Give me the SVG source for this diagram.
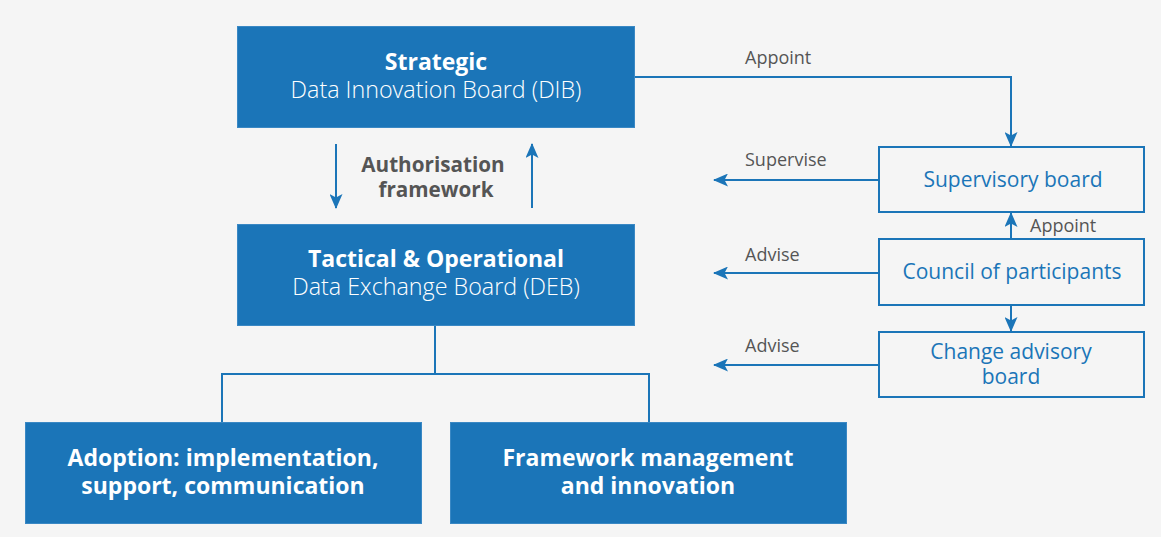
<svg xmlns="http://www.w3.org/2000/svg" width="1161" height="537" viewBox="0 0 1161 537">
<style>
.fill{fill:#1b75b8;stroke:#3a88c4;stroke-width:1}
.outl{fill:none;stroke:#1b75b8;stroke-width:2}
.bt{font-family:"Open Sans","Liberation Sans",sans-serif;font-weight:700;font-size:23px;fill:#fff;text-anchor:middle}
.lt{font-family:"Open Sans","Liberation Sans",sans-serif;font-weight:300;font-size:23.3px;fill:#fff;text-anchor:middle}
.nt{font-family:"Open Sans","Liberation Sans",sans-serif;font-size:21px;fill:#1b75b8;text-anchor:middle}
.lab{font-family:"Open Sans","Liberation Sans",sans-serif;font-size:18px;fill:#555}
.gb{font-family:"Open Sans","Liberation Sans",sans-serif;font-weight:700;font-size:20.7px;fill:#555;text-anchor:middle}
.ln{fill:none;stroke:#1b75b8;stroke-width:2}
</style>
<defs>
<marker id="ah" viewBox="0 0 15 13" refX="14" refY="6.5" markerWidth="15" markerHeight="13" markerUnits="userSpaceOnUse" orient="auto">
<path d="M0,0 L15,6.5 L0,13 L3.5,6.5 Z" fill="#1b75b8"/>
</marker>
</defs>
<rect width="1161" height="537" fill="#f5f5f5"/>
<g id="connectors">
<path class="ln" d="M634,77 H1011 V146" marker-end="url(#ah)"/>
<path class="ln" d="M336,144 V208" marker-end="url(#ah)"/>
<path class="ln" d="M532,208 V144" marker-end="url(#ah)"/>
<path class="ln" d="M435,325 V374 M222,422 V374 H649 V422"/>
<path class="ln" d="M879,180 H714" marker-end="url(#ah)"/>
<path class="ln" d="M879,273 H714" marker-end="url(#ah)"/>
<path class="ln" d="M879,365 H714" marker-end="url(#ah)"/>
<path class="ln" d="M1011,239 V213" marker-end="url(#ah)"/>
<path class="ln" d="M1011,305 V331" marker-end="url(#ah)"/>
<text class="lab" x="745" y="64">Appoint</text>
<text class="lab" x="745" y="166">Supervise</text>
<text class="lab" x="745" y="261">Advise</text>
<text class="lab" x="745" y="352">Advise</text>
<text class="lab" x="1030" y="232">Appoint</text>
<text class="gb" x="433" y="172">Authorisation</text>
<text class="gb" x="436" y="197">framework</text>
</g>
<g id="dib">
<rect class="fill" x="237.5" y="26.5" width="397" height="101"/>
<text class="bt" x="436" y="70">Strategic</text>
<text class="lt" x="436" y="98">Data Innovation Board (DIB)</text>
</g>
<g id="deb">
<rect class="fill" x="237.5" y="224.5" width="397" height="101"/>
<text class="bt" x="436" y="267">Tactical &amp; Operational</text>
<text class="lt" x="436" y="295">Data Exchange Board (DEB)</text>
</g>
<g id="adoption">
<rect class="fill" x="25.5" y="422.5" width="396" height="101"/>
<text class="bt" x="223" y="466">Adoption: implementation,</text>
<text class="bt" x="223" y="494">support, communication</text>
</g>
<g id="framework">
<rect class="fill" x="450.5" y="422.5" width="396" height="101"/>
<text class="bt" x="648" y="466">Framework management</text>
<text class="bt" x="648" y="494">and innovation</text>
</g>
<g id="supervisory">
<rect class="outl" x="879" y="147" width="265" height="65"/>
<text class="nt" x="1013" y="187">Supervisory board</text>
</g>
<g id="council">
<rect class="outl" x="879" y="239" width="265" height="66"/>
<text class="nt" x="1012" y="279">Council of participants</text>
</g>
<g id="change">
<rect class="outl" x="879" y="332" width="265" height="65"/>
<text class="nt" x="1011" y="359">Change advisory</text>
<text class="nt" x="1011" y="384">board</text>
</g>
</svg>
